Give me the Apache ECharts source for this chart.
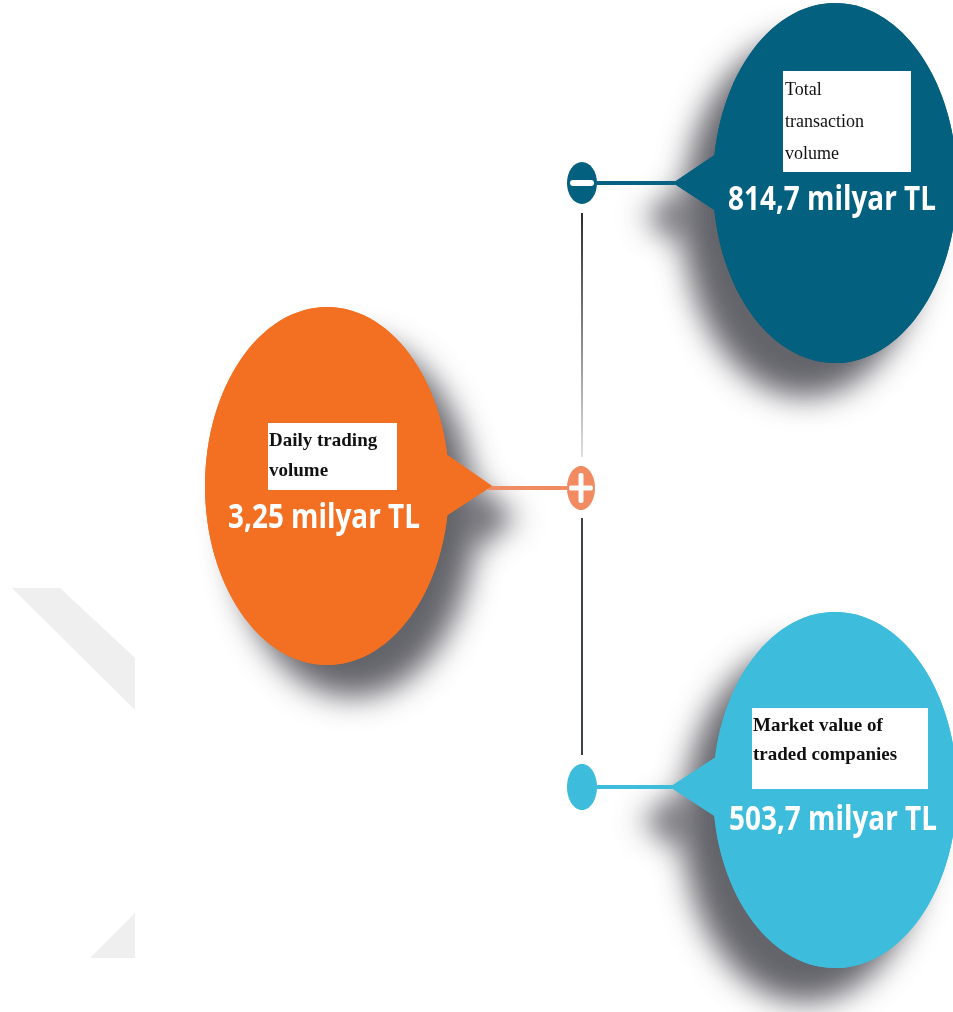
<!DOCTYPE html>
<html>
<head>
<meta charset="utf-8">
<script src="https://cdn.jsdelivr.net/npm/echarts@6/dist/echarts.min.js"></script>
<style>
html,body{margin:0;padding:0;background:#ffffff;}
#chart{width:953px;height:1012px;}
</style>
</head>
<body>
<div id="chart"></div>
<script>
// ---- data ----
const categories = ['Total\ntransaction\nvolume', 'Daily trading\nvolume', 'Market value of\ntraded companies'];
const valueLabels = ['814,7 milyar TL', '3,25 milyar TL', '503,7 milyar TL'];
const markers = ['minus', 'plus', 'dot'];
const colors = ['#03607f', '#f37023', '#3dbcdb'];

// ---- layout (positions / styles) ----
const layout = [
  { cx: 835, cy: 183, rx: 122, ry: 180,
    tri: [[716, 154], [673, 183], [716, 211]],
    node: [582, 183], nrx: 15, nry: 21, nodeColor: '#03607f', lineColor: '#0a6283',
    line: [597, 675],
    box: [783, 71, 128, 101], labelPos: [785, 74], labelSize: 18, labelLH: 32, labelWeight: 'normal',
    valuePos: [832, 200], shadow: [-30, 34] },
  { cx: 327, cy: 486, rx: 122, ry: 179,
    tri: [[443, 452], [492, 486], [443, 518]],
    node: [581, 488], nrx: 14, nry: 22, nodeColor: '#f28b62', lineColor: '#f28b62',
    line: [567, 488],
    box: [268, 423, 129, 67], labelPos: [269, 426], labelSize: 19, labelLH: 30, labelWeight: 'bold',
    valuePos: [324, 518], shadow: [26, 32] },
  { cx: 835, cy: 790, rx: 122, ry: 178,
    tri: [[716, 757], [670, 787], [716, 817]],
    node: [582, 787], nrx: 15, nry: 23, nodeColor: '#3dbcdb', lineColor: '#3dbcdb',
    line: [597, 672],
    box: [752, 708, 176, 81], labelPos: [753, 712], labelSize: 19, labelLH: 29, labelWeight: 'bold',
    valuePos: [833, 820], shadow: [-30, 34] }
];

const chart = echarts.init(document.getElementById('chart'), null, { renderer: 'canvas' });

function renderItem(params, api) {
  const i = params.dataIndex;
  const L = layout[i];
  const col = colors[i];
  const shadowStyle = {
    fill: col,
    shadowBlur: 30,
    shadowOffsetX: L.shadow[0],
    shadowOffsetY: L.shadow[1],
    shadowColor: 'rgba(40,40,50,0.72)'
  };
  const children = [
    { type: 'ellipse', z2: 1, shape: { cx: L.cx, cy: L.cy, rx: L.rx, ry: L.ry }, style: shadowStyle },
    { type: 'polygon', z2: 1, shape: { points: L.tri }, style: shadowStyle },
    { type: 'line', z2: 2, shape: { x1: L.line[0], y1: L.node[1], x2: L.line[1], y2: L.node[1] },
      style: { stroke: L.lineColor, lineWidth: 4 } },
    { type: 'ellipse', z2: 3, shape: { cx: L.cx, cy: L.cy, rx: L.rx, ry: L.ry }, style: { fill: col } },
    { type: 'polygon', z2: 3, shape: { points: L.tri }, style: { fill: col } },
    { type: 'ellipse', z2: 4, shape: { cx: L.node[0], cy: L.node[1], rx: L.nrx, ry: L.nry }, style: { fill: L.nodeColor } },
    { type: 'rect', z2: 5, shape: { x: L.box[0], y: L.box[1], width: L.box[2], height: L.box[3] }, style: { fill: '#ffffff' } },
    { type: 'text', z2: 6, x: L.labelPos[0], y: L.labelPos[1],
      style: { text: categories[i], fill: '#111111', font: L.labelWeight + ' ' + L.labelSize + 'px "Liberation Serif"',
        lineHeight: L.labelLH, align: 'left', verticalAlign: 'top' } },
    { type: 'text', z2: 6, x: L.valuePos[0], y: L.valuePos[1], scaleX: 0.82,
      style: { text: valueLabels[i], fill: '#ffffff', font: 'bold 34px "Open Sans"',
        align: 'center', verticalAlign: 'middle' } }
  ];
  const nx = L.node[0], ny = L.node[1];
  if (markers[i] === 'minus') {
    children.push({ type: 'rect', z2: 6, shape: { x: nx - 12, y: ny - 3, width: 24, height: 6, r: 3 }, style: { fill: '#ffffff' } });
  } else if (markers[i] === 'plus') {
    children.push({ type: 'rect', z2: 6, shape: { x: nx - 12, y: ny - 2.5, width: 24, height: 5, r: 2 }, style: { fill: '#ffffff' } });
    children.push({ type: 'rect', z2: 6, shape: { x: nx - 2.5, y: ny - 15, width: 5, height: 30, r: 2 }, style: { fill: '#ffffff' } });
  }
  return { type: 'group', children: children };
}

const option = {
  backgroundColor: '#ffffff',
  animation: false,
  graphic: [
    { type: 'polygon', z: 0, shape: { points: [[12, 588], [60, 588], [135, 658], [135, 710]] }, style: { fill: '#efefef' }, silent: true },
    { type: 'polygon', z: 0, shape: { points: [[90, 958], [135, 913], [135, 958]] }, style: { fill: '#efefef' }, silent: true },
    { type: 'line', z: 0, shape: { x1: 582, y1: 213, x2: 582, y2: 457 }, silent: true,
      style: { lineWidth: 2, stroke: new echarts.graphic.LinearGradient(0, 0, 0, 1, [
        { offset: 0, color: '#2a2a2a' }, { offset: 1, color: '#e2e2e2' }]) } },
    { type: 'line', z: 0, shape: { x1: 582, y1: 518, x2: 582, y2: 755 }, silent: true,
      style: { lineWidth: 2, stroke: '#3a4448' } }
  ],
  series: [{
    type: 'custom',
    coordinateSystem: 'none',
    silent: true,
    renderItem: renderItem,
    data: categories.map(function (c, i) { return { name: c, value: [i] }; })
  }]
};
chart.setOption(option);
</script>
</body>
</html>
